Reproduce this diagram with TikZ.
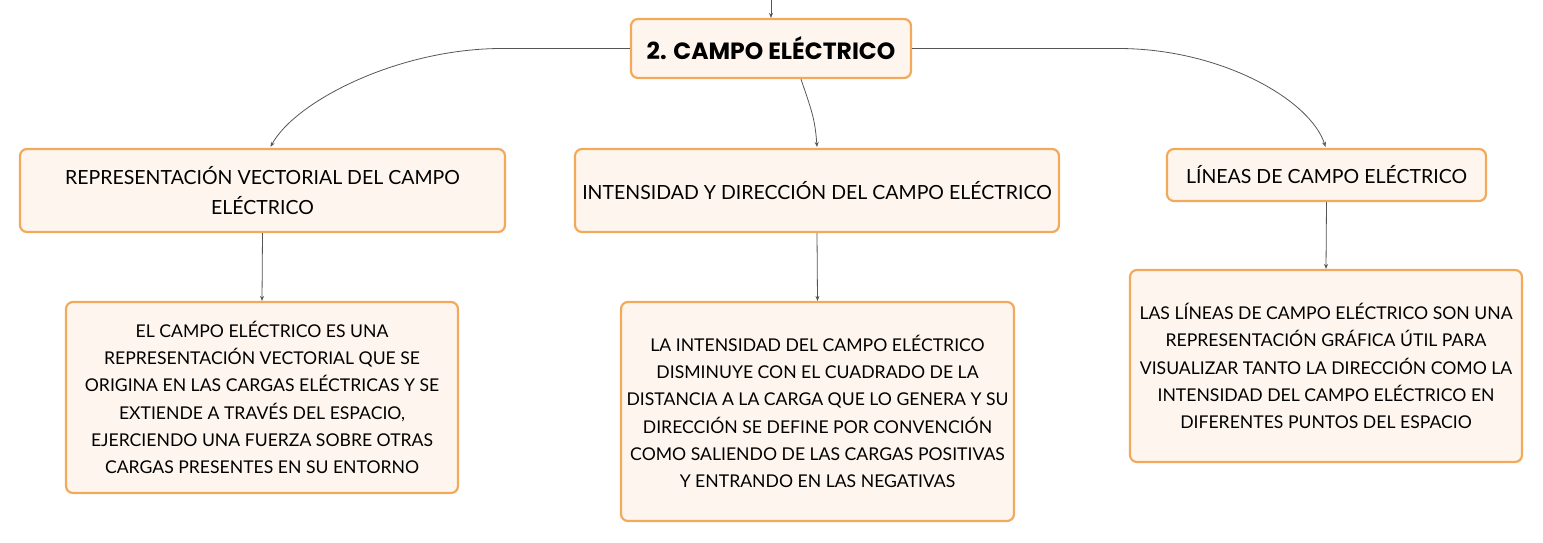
\documentclass[tikz,border=0pt]{standalone}
\usepackage{fontspec}
\setmainfont{Lato}
\newfontfamily\titlefont{Poppins}
\usetikzlibrary{arrows.meta,calc}
\definecolor{boxline}{HTML}{F2A95A}
\definecolor{boxfill}{HTML}{FEF6EE}
\definecolor{conn}{HTML}{555555}
\tikzset{
  box/.style={draw=boxline, line width=2.2pt, fill=boxfill, rounded corners=7pt,
    align=center, inner sep=0pt, font=\fontsize{17.6}{27.3}\selectfont, text=black},
  midbox/.style={box, font=\fontsize{19.5}{30}\selectfont},
  arr/.style={draw=conn, line width=0.8pt, -{Stealth[length=5pt,width=4pt]}}
}
\begin{document}
\begin{tikzpicture}[x=1pt,y=-1pt]
\useasboundingbox (0,0) rectangle (1543,543);
\node[box, minimum width=280, minimum height=59, font=\titlefont\bfseries\fontsize{23.5}{26}\selectfont] (title) at (771,48.5) {2. CAMPO ELÉCTRICO};
\node[midbox, minimum width=485, minimum height=83] (lm) at (262.5,190.5) {REPRESENTACIÓN VECTORIAL DEL CAMPO\\ELÉCTRICO};
\node[midbox, minimum width=484, minimum height=83] (cm) at (817,190.5) {INTENSIDAD Y DIRECCIÓN DEL CAMPO ELÉCTRICO};
\node[midbox, minimum width=319, minimum height=52] (rm) at (1326.5,175) {LÍNEAS DE CAMPO ELÉCTRICO};
\node[box, minimum width=392, minimum height=191] (lb) at (262,397.5) {EL CAMPO ELÉCTRICO ES UNA\\REPRESENTACIÓN VECTORIAL QUE SE\\ORIGINA EN LAS CARGAS ELÉCTRICAS Y SE\\EXTIENDE A TRAVÉS DEL ESPACIO,\\EJERCIENDO UNA FUERZA SOBRE OTRAS\\CARGAS PRESENTES EN SU ENTORNO};
\node[box, minimum width=393, minimum height=219] (cb) at (817.5,411.5) {LA INTENSIDAD DEL CAMPO ELÉCTRICO\\DISMINUYE CON EL CUADRADO DE LA\\DISTANCIA A LA CARGA QUE LO GENERA Y SU\\DIRECCIÓN SE DEFINE POR CONVENCIÓN\\COMO SALIENDO DE LAS CARGAS POSITIVAS\\Y ENTRANDO EN LAS NEGATIVAS};
\node[box, minimum width=392, minimum height=192] (rb) at (1326,366) {LAS LÍNEAS DE CAMPO ELÉCTRICO SON UNA\\REPRESENTACIÓN GRÁFICA ÚTIL PARA\\VISUALIZAR TANTO LA DIRECCIÓN COMO LA\\INTENSIDAD DEL CAMPO ELÉCTRICO EN\\DIFERENTES PUNTOS DEL ESPACIO};
\coordinate (topin) at (771,0);
\draw[arr] (topin) -- (title.north);
\draw[arr] (title.west) -- ++(-128,0) .. controls ++(-103,0) and ($(lm.north)+(33,-47)$) .. ($(lm.north)+(8,-1)$);
\draw[arr] (title.east) -- ++(206,0) .. controls ++(103,0) and ($(rm.north)+(-16,-48)$) .. ($(rm.north)+(-1,-1)$);
\draw[arr] ($(title.south)+(30,0)$) .. controls ($(title.south)+(40,30)$) and ($(cm.north)+(-2,-30)$) .. ($(cm.north)+(0,-1)$);
\draw[arr] (lm.south) -- (lb.north);
\draw[arr] (cm.south) -- (cb.north);
\draw[arr] (rm.south) -- (rb.north);
\end{tikzpicture}
\end{document}
